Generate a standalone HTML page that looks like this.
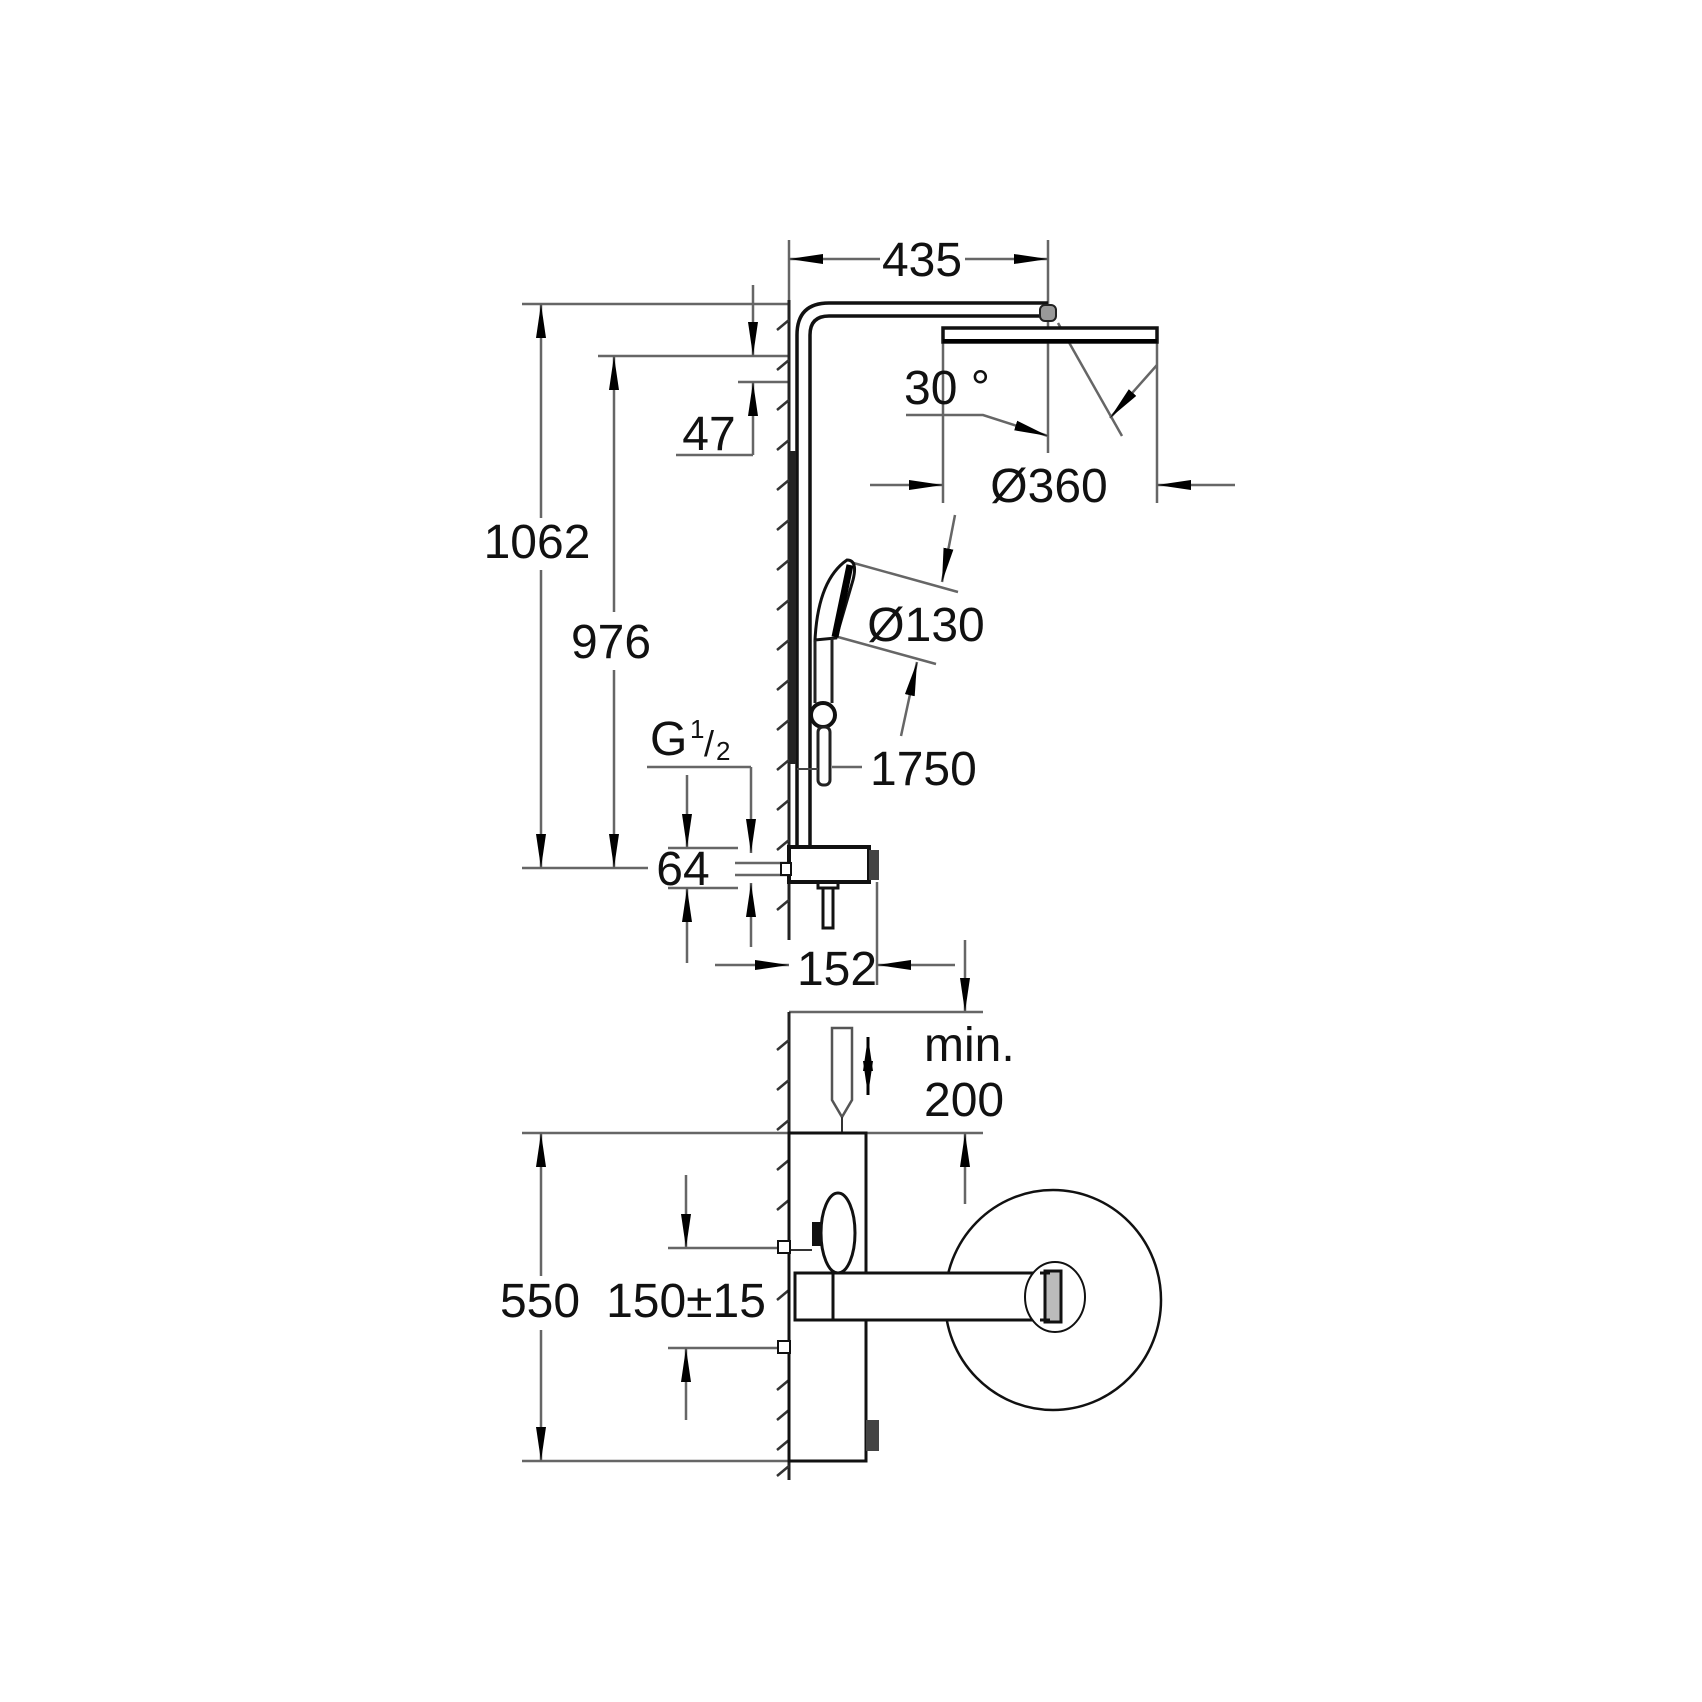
<!DOCTYPE html>
<html><head><meta charset="utf-8"><style>
html,body{margin:0;padding:0;background:#fff}
svg{display:block}
text{font-family:"Liberation Sans",sans-serif;font-size:48px;fill:#111}
</style></head><body>
<svg width="1702" height="1702" viewBox="0 0 1702 1702" xmlns="http://www.w3.org/2000/svg">
<defs>
<marker id="a" viewBox="0 0 34 12" refX="34" refY="6" markerWidth="34" markerHeight="12" markerUnits="userSpaceOnUse" orient="auto">
<path d="M0,1 L34,6 L0,11 Z" fill="#000"/></marker>
</defs>
<g stroke="#666" stroke-width="2.5" fill="none">
<!-- 435 -->
<line x1="789" y1="240" x2="789" y2="300"/>
<line x1="1048" y1="240" x2="1048" y2="453"/>
<line x1="880" y1="259" x2="789" y2="259" marker-end="url(#a)"/>
<line x1="965" y1="259" x2="1048" y2="259" marker-end="url(#a)"/>
<!-- 1062 -->
<line x1="522" y1="304" x2="789" y2="304"/>
<line x1="522" y1="868" x2="648" y2="868"/>
<line x1="541" y1="360" x2="541" y2="304" marker-end="url(#a)"/>
<line x1="541" y1="518" x2="541" y2="360"/>
<line x1="541" y1="570" x2="541" y2="868" marker-end="url(#a)"/>
<!-- 976 -->
<line x1="598" y1="356" x2="789" y2="356"/>
<line x1="614" y1="420" x2="614" y2="356" marker-end="url(#a)"/>
<line x1="614" y1="420" x2="614" y2="612"/>
<line x1="614" y1="670" x2="614" y2="868" marker-end="url(#a)"/>
<!-- 47 -->
<line x1="753" y1="285" x2="753" y2="356" marker-end="url(#a)"/>
<line x1="738" y1="382" x2="789" y2="382"/>
<line x1="753" y1="455" x2="753" y2="382" marker-end="url(#a)"/>
<line x1="676" y1="455" x2="753" y2="455"/>
<!-- 30 deg -->
<polyline points="906,415 983,415 1048,436" marker-end="url(#a)"/>
<line x1="1058" y1="323" x2="1122" y2="436"/>
<line x1="1157" y1="365" x2="1110" y2="418" marker-end="url(#a)"/>
<line x1="1157" y1="343" x2="1157" y2="503"/>
<line x1="943" y1="343" x2="943" y2="503"/>
<!-- 360 -->
<line x1="870" y1="485" x2="943" y2="485" marker-end="url(#a)"/>
<line x1="1235" y1="485" x2="1157" y2="485" marker-end="url(#a)"/>
<!-- 130 -->
<line x1="850" y1="562" x2="958" y2="592"/>
<line x1="838" y1="637" x2="936" y2="664"/>
<line x1="955" y1="515" x2="942" y2="582" marker-end="url(#a)"/>
<line x1="901" y1="736" x2="917" y2="662" marker-end="url(#a)"/>
<line x1="832" y1="767" x2="862" y2="767"/>
<!-- G1/2 & 64 -->
<line x1="647" y1="767" x2="751" y2="767"/>
<line x1="751" y1="767" x2="751" y2="853" marker-end="url(#a)"/>
<line x1="735" y1="863" x2="788" y2="863"/>
<line x1="735" y1="875" x2="788" y2="875"/>
<line x1="751" y1="947" x2="751" y2="883" marker-end="url(#a)"/>
<line x1="687" y1="775" x2="687" y2="848" marker-end="url(#a)"/>
<line x1="668" y1="848" x2="738" y2="848"/>
<line x1="668" y1="888" x2="738" y2="888"/>
<line x1="687" y1="963" x2="687" y2="888" marker-end="url(#a)"/>
<!-- 152 -->
<line x1="877" y1="882" x2="877" y2="985"/>
<line x1="715" y1="965" x2="789" y2="965" marker-end="url(#a)"/>
<line x1="955" y1="965" x2="877" y2="965" marker-end="url(#a)"/>
<!-- min 200 -->
<line x1="965" y1="940" x2="965" y2="1012" marker-end="url(#a)"/>
<line x1="789" y1="1012" x2="983" y2="1012"/>
<line x1="522" y1="1133" x2="983" y2="1133"/>
<line x1="965" y1="1204" x2="965" y2="1133" marker-end="url(#a)"/>
<!-- 550 -->
<line x1="522" y1="1461" x2="866" y2="1461"/>
<line x1="541" y1="1190" x2="541" y2="1133" marker-end="url(#a)"/>
<line x1="541" y1="1190" x2="541" y2="1276"/>
<line x1="541" y1="1330" x2="541" y2="1461" marker-end="url(#a)"/>
<!-- 150 -->
<line x1="686" y1="1175" x2="686" y2="1248" marker-end="url(#a)"/>
<line x1="668" y1="1248" x2="778" y2="1248"/>
<line x1="668" y1="1348" x2="778" y2="1348"/>
<line x1="686" y1="1420" x2="686" y2="1348" marker-end="url(#a)"/>
</g>
<!-- wall -->
<g stroke="#222" stroke-width="3" fill="none">
<line x1="789" y1="300" x2="789" y2="940"/>
<line x1="789" y1="1012" x2="789" y2="1480"/>
</g>
<g stroke="#333" stroke-width="2.5">
<path d="M789,320 l-12,10 M789,360 l-12,10 M789,400 l-12,10 M789,440 l-12,10 M789,480 l-12,10 M789,520 l-12,10 M789,560 l-12,10 M789,600 l-12,10 M789,640 l-12,10 M789,680 l-12,10 M789,720 l-12,10 M789,760 l-12,10 M789,800 l-12,10 M789,840 l-12,10 M789,900 l-12,10"/>
<path d="M789,1040 l-12,10 M789,1080 l-12,10 M789,1120 l-12,10 M789,1160 l-12,10 M789,1200 l-12,10 M789,1290 l-12,10 M789,1380 l-12,10 M789,1410 l-12,10 M789,1440 l-12,10 M789,1466 l-12,10"/>
</g>
<!-- riser -->
<g stroke="#111" stroke-width="3.5" fill="none">
<path d="M797,847 V335 Q797,303 829,303 H1048"/>
<path d="M810,847 V335 Q810,316 829,316 H1048"/>
</g>
<line x1="793" y1="451" x2="793" y2="764" stroke="#222" stroke-width="6"/>
<!-- pivot and head -->
<rect x="1040" y="305" width="16" height="16" rx="5" fill="#999" stroke="#222" stroke-width="2"/>
<rect x="943" y="328" width="214" height="14" fill="#fff" stroke="#111" stroke-width="3.5"/>
<line x1="943" y1="341" x2="1157" y2="341" stroke="#000" stroke-width="4"/>
<!-- hand shower -->
<path d="M847,560 Q858,560 853,580 L836,638 L815,640 Q818,580 847,560 Z" fill="#fff" stroke="#111" stroke-width="3"/>
<path d="M850,565 L835,637" stroke="#000" stroke-width="7"/>
<path d="M815,640 V703 M832,638 V703" stroke="#222" stroke-width="3"/>
<circle cx="823" cy="715" r="12" fill="#fff" stroke="#111" stroke-width="4"/>
<rect x="818" y="727" width="12" height="58" rx="5" fill="#fff" stroke="#222" stroke-width="3"/>
<line x1="797" y1="769" x2="818" y2="769" stroke="#444" stroke-width="2"/>
<!-- thermostat side -->
<rect x="789" y="847" width="80" height="35" fill="#fff" stroke="#111" stroke-width="4"/>
<rect x="869" y="850" width="10" height="30" fill="#444"/>
<rect x="781" y="863" width="10" height="12" fill="#fff" stroke="#111" stroke-width="2"/>
<path d="M818,882 V888 H838 V882" fill="none" stroke="#111" stroke-width="3"/>
<rect x="823" y="888" width="10" height="40" fill="#fff" stroke="#111" stroke-width="3"/>
<!-- bottom view -->
<path d="M832,1028 H852 V1100 L842,1117 L832,1100 Z" fill="#fff" stroke="#555" stroke-width="2.5"/>
<line x1="842" y1="1117" x2="842" y2="1133" stroke="#333" stroke-width="2"/>
<line x1="868" y1="1062" x2="868" y2="1037" stroke="#000" stroke-width="3" marker-end="url(#a)"/>
<line x1="868" y1="1068" x2="868" y2="1095" stroke="#000" stroke-width="3" marker-end="url(#a)"/>
<rect x="789" y="1133" width="77" height="328" fill="#fff" stroke="#111" stroke-width="3"/>
<rect x="866" y="1420" width="13" height="31" fill="#444"/>
<ellipse cx="1053" cy="1300" rx="108" ry="110" fill="none" stroke="#111" stroke-width="2.5"/>
<rect x="795" y="1273" width="255" height="47" fill="#fff" stroke="#111" stroke-width="3"/>
<line x1="833" y1="1273" x2="833" y2="1320" stroke="#111" stroke-width="3"/>
<ellipse cx="838" cy="1233" rx="17" ry="40" fill="#fff" stroke="#111" stroke-width="3"/>
<rect x="812" y="1222" width="10" height="24" fill="#111"/>
<line x1="790" y1="1250" x2="812" y2="1250" stroke="#333" stroke-width="2"/>
<rect x="778" y="1241" width="12" height="12" fill="#fff" stroke="#111" stroke-width="2"/>
<rect x="778" y="1341" width="12" height="12" fill="#fff" stroke="#111" stroke-width="2"/>
<ellipse cx="1055" cy="1297" rx="30" ry="35" fill="#fff" stroke="#111" stroke-width="2"/>
<rect x="1045" y="1271" width="16" height="51" fill="#bbb" stroke="#111" stroke-width="3"/>
<line x1="1040" y1="1273" x2="1050" y2="1273" stroke="#111" stroke-width="3"/>
<line x1="1040" y1="1320" x2="1050" y2="1320" stroke="#111" stroke-width="3"/>
<!-- texts -->
<text x="922" y="276" text-anchor="middle">435</text>
<text x="537" y="558" text-anchor="middle">1062</text>
<text x="611" y="658" text-anchor="middle">976</text>
<text x="709" y="450" text-anchor="middle">47</text>
<text x="947" y="404" text-anchor="middle">30 °</text>
<text x="1049" y="502" text-anchor="middle">Ø360</text>
<text x="926" y="641" text-anchor="middle">Ø130</text>
<text x="870" y="785">1750</text>
<text x="650" y="755">G</text>
<text x="690" y="738" style="font-size:26px">1</text>
<text x="704" y="756" style="font-size:36px">/</text>
<text x="716" y="760" style="font-size:26px">2</text>
<text x="683" y="885" text-anchor="middle">64</text>
<text x="837" y="985" text-anchor="middle">152</text>
<text x="924" y="1061">min.</text>
<text x="924" y="1116">200</text>
<text x="540" y="1317" text-anchor="middle">550</text>
<text x="686" y="1317" text-anchor="middle">150±15</text>
</svg>
</body></html>
